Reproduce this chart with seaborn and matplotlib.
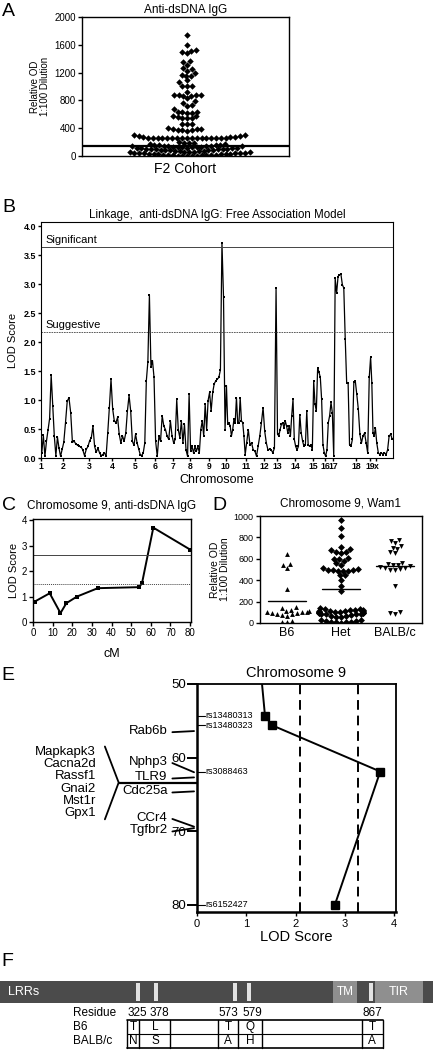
import numpy as np
import pandas as pd
import matplotlib
matplotlib.use("Agg")
import matplotlib.pyplot as plt
import seaborn as sns
from matplotlib.patches import Rectangle

# ══════════════════════════════════════════
# DATA
# ══════════════════════════════════════════

# A: anti-dsDNA IgG, F2 cohort (relative OD)
a_high = [1735, 1600,
          1520, 1515, 1490, 1480,
          1360, 1350, 1310,
          1270, 1250, 1230,
          1190, 1170, 1155, 1155,
          1090, 1060,
          1010, 1010, 1010,
          920,
          880, 880, 875, 875, 870, 870,
          830,
          785, 760, 735, 725,
          675,
          640, 635, 630, 625, 620,
          580, 570, 560, 550, 545, 540,
          465, 460, 455,
          400, 395, 390, 385, 380, 375, 370, 365,
          300, 295, 290, 285, 280, 278, 275]
a_mid = [255, 255, 255, 255, 255, 255, 255, 255, 255, 255, 255, 255, 255, 255, 255,
         255, 255,
         200, 190, 185, 180, 175, 170, 165, 160, 160, 155]
a_low = [143, 121, 96, 64, 31, 12, 138, 110, 87, 55, 20, 5, 147, 129, 102, 77, 44, 26,
         9, 134, 115, 92, 68, 39, 15, 2, 141, 118, 84, 59, 33, 18, 7, 126, 105, 73, 50,
         24, 11, 145, 131, 99, 80, 62, 41, 28, 4, 136, 113, 89, 71, 47, 22, 14, 0, 149,
         124, 107, 94, 57, 36]
a_cut = 150

# B: genome-wide LOD scan
chrom_names = ['1', '2', '3', '4', '5', '6', '7', '8', '9', '10', '11', '12', '13',
               '14', '15', '16', '17', '18', '19', 'x']
chrom_cm = [103, 122, 108, 108, 94, 85, 80, 89, 80, 94, 85, 61, 85, 85, 56, 38, 108,
            66, 28, 80]
lod_by_chrom = [
    [0.09, 0.39, 0.03, 0.29, 0.49, 0.68, 1.43, 0.9, 0.38, 0.04, 0.36, 0.17, 0.03, 0.15],
    [0.27, 0.61, 0.98, 1.04, 0.78, 0.27, 0.29, 0.24, 0.22, 0.2, 0.19, 0.14, 0.04, 0.15, 0.2],
    [0.3, 0.35, 0.55, 0.2, 0.1, 0.17, 0.09, 0.04, 0.06, 0.09, 0.03, 0.43, 0.87, 1.36],
    [0.85, 0.64, 0.61, 0.7, 0.41, 0.26, 0.38, 0.29, 0.43, 0.81, 1.08, 0.81, 0.29, 0.22],
    [0.41, 0.26, 0.16, 0.06, 0.04, 0.09, 0.26, 1.33, 1.66, 2.81, 1.57, 1.68, 1.39],
    [0.29, 0.03, 0.38, 0.29, 0.73, 0.55, 0.49, 0.38, 0.32, 0.64, 0.38],
    [0.26, 0.32, 1.01, 0.49, 0.35, 0.64, 0.26, 0.58, 0.14, 0.03, 1.1],
    [0.12, 0.2, 0.09, 0.2, 0.12, 0.2, 0.09, 0.49, 0.64, 0.38, 0.93, 0.49, 0.99],
    [1.13, 0.81, 1.13, 1.28, 1.33, 1.36, 1.39, 1.52, 3.71, 2.78, 0.49],
    [1.25, 0.58, 0.61, 0.55, 0.38, 0.49, 0.67, 0.61, 1.04, 0.61, 0.61, 1.04, 0.64, 0.61, 0.38, 0.06],
    [0.26, 0.49, 0.23, 0.26, 0.14, 0.12, 0.03, 0.2, 0.38, 0.61, 0.87],
    [0.46, 0.26, 0.14, 0.15, 0.14, 0.09, 0.17, 2.93],
    [0.41, 0.38, 0.49, 0.58, 0.61, 0.52, 0.64, 0.55, 0.43, 0.55, 0.38, 0.73, 1.01, 0.32],
    [0.2, 0.14, 0.2, 0.75, 0.43, 0.29, 0.2, 0.23, 0.81, 0.23, 0.2, 0.23, 0.14],
    [1.33, 0.93, 0.81, 1.56, 1.48, 1.39, 1.01, 0.23, 0.09],
    [0.03, 0.14, 0.61, 0.73, 0.96, 0.78],
    [0.03, 3.1, 2.84, 3.13, 3.16, 3.17, 2.99, 2.93, 2.06, 1.3, 1.3, 0.23, 0.2, 0.32, 1.31, 1.33],
    [1.1, 0.84, 0.41, 0.26, 0.38, 0.43, 0.26, 0.09, 1.39],
    [1.74, 1.3, 0.43, 0.38, 0.52],
    [0.26, 0.09, 0.06, 0.09, 0.06, 0.09, 0.06, 0.14, 0.38, 0.41, 0.32],
]
b_sig = 3.64
b_sug = 2.17

# C: chromosome 9 LOD
c_cm = [0.8, 8.5, 14, 17, 22.4, 33, 54.2, 55.6, 61.3, 80]
c_lod = [0.8, 1.13, 0.35, 0.74, 1.0, 1.33, 1.37, 1.55, 3.71, 2.85]
c_sig = 2.65
c_sug = 1.5

# D: anti-dsDNA by Wam1 genotype
d_groups = ['B6', 'Het', 'BALB/c']
d_b6 = [645, 550, 540, 515, 320, 150, 140, 125, 115, 110, 105, 100, 100, 95, 90, 85,
        80, 75, 70, 20, 10, 5]
d_het = [965, 885, 815, 710, 690, 680, 665, 660, 655, 610, 600, 595, 580, 560, 545,
         510, 505, 500, 500, 495, 490, 490, 485, 450, 445, 400, 350, 300,
         140, 135, 130, 125, 120, 120, 115, 115, 110, 110, 105, 105, 100, 100, 100,
         95, 95, 90, 90, 85, 85, 80, 80, 75, 70, 65, 60, 55, 30, 25, 20, 15, 10, 10, 5, 5, 0]
d_balb = [775, 770, 745, 720, 705, 690, 665, 650, 560, 555, 545, 540, 530, 520, 515,
          510, 505, 500, 500, 350, 100, 90, 85]
d_mean = [205, 320, 530]

# E: chromosome 9 fine map
snp_names = ['rs13480313', 'rs13480323', 'rs3088463', 'rs6152427']
snp_cm = [54.3, 55.6, 61.9, 80.0]
snp_lod = [1.38, 1.52, 3.72, 2.8]
e_entry = (50.0, 1.32)
e_sug = 2.09
e_sig = 3.27
genes = ['Rab6b', 'Nphp3', 'TLR9', 'Cdc25a', 'CCr4', 'Tgfbr2']
gene_cm = [56.4, 62.0, 62.7, 64.6, 69.4, 69.6]
cluster_genes = ['Mapkapk3', 'Cacna2d', 'Rassf1', 'Gnai2', 'Mst1r', 'Gpx1']
cluster_cm = 63.4

# F: TLR9 polymorphisms
f_residues = [325, 378, 573, 579, 867]
f_b6 = ['T', 'L', 'T', 'Q', 'T']
f_balb = ['N', 'S', 'A', 'H', 'A']

# ══════════════════════════════════════════
# SETUP
# ══════════════════════════════════════════

sns.set_theme(style="ticks")
plt.rcParams['font.family'] = ['Liberation Sans', 'DejaVu Sans']
plt.rcParams.update({
    'axes.linewidth': 1.0, 'axes.edgecolor': 'black',
    'xtick.major.width': 1.0, 'ytick.major.width': 1.0,
    'xtick.major.size': 3, 'ytick.major.size': 3,
    'xtick.major.pad': 1.5, 'ytick.major.pad': 1.5,
    'xtick.color': 'black', 'ytick.color': 'black',
    'text.color': 'black', 'axes.labelcolor': 'black',
})

W, H = 433, 1050
fig = plt.figure(figsize=(W / 100, H / 100), dpi=100)


def px_axes(l, t, r, b):
    return fig.add_axes([l / W, 1 - b / H, (r - l) / W, (b - t) / H])


def panel_label(x, y, s):
    fig.text(x / W, 1 - y / H, s, fontsize=14, ha='center', va='center')


# ══════════════════════════════════════════
# PANEL A
# ══════════════════════════════════════════

ax = px_axes(82, 17, 289, 156)
a_vals = a_high + a_mid + a_low
sns.swarmplot(y=a_vals, ax=ax, marker='D', size=3.3, color='black', linewidth=0)
ax.axhline(a_cut, color='black', lw=1.6)
ax.set_xlim(-0.64, 0.62)
ax.set_ylim(0, 2000)
ax.set_yticks(range(0, 2001, 400))
ax.tick_params(axis='y', labelsize=7)
ax.set_xticks([])
ax.set_xlabel('F2 Cohort', fontsize=10, labelpad=4)
ax.set_ylabel('Relative OD\n1:100 Dilution', fontsize=7, labelpad=3, linespacing=1.0)
ax.set_title('Anti-dsDNA IgG', fontsize=8.5, pad=3)
panel_label(8, 12, 'A')

# ══════════════════════════════════════════
# PANEL B
# ══════════════════════════════════════════

ax = px_axes(41, 222, 393, 458)
xs, ys = [], []
start = 0
starts = []
for L, vals in zip(chrom_cm, lod_by_chrom):
    starts.append(start)
    step = L / len(vals)
    xs += [start + (i + 0.5) * step for i in range(len(vals))]
    ys += vals
    start += L
sns.lineplot(x=xs, y=ys, ax=ax, sort=False, estimator=None, color='black',
             lw=0.9, marker='s', markersize=1.8, markeredgewidth=0)
ax.axhline(b_sig, color='#444444', lw=0.7)
ax.axhline(b_sug, color='#444444', lw=0.6, ls=(0, (2, 1)))
ax.text(start * 0.012, b_sig + 0.04, 'Significant', fontsize=8, va='bottom')
ax.text(start * 0.012, b_sug + 0.04, 'Suggestive', fontsize=8, va='bottom')
ax.set_xlim(0, start)
ax.set_ylim(0, 4.07)
ax.set_xticks(starts)
ax.set_xticklabels(chrom_names, fontsize=6.2, fontweight='bold')
ax.set_yticks(np.arange(0, 4.01, 0.5))
ax.set_yticklabels([f'{v:.1f}' for v in np.arange(0, 4.01, 0.5)],
                   fontsize=6.5, fontweight='bold')
ax.tick_params(axis='x', length=2, pad=1)
ax.tick_params(axis='y', length=2)
for s in ax.spines.values():
    s.set_linewidth(0.8)
ax.set_xlabel('Chromosome', fontsize=9, labelpad=2)
ax.set_ylabel('LOD Score', fontsize=8, labelpad=4)
ax.set_title('Linkage,  anti-dsDNA IgG: Free Association Model', fontsize=8.3, pad=3)
panel_label(9, 207, 'B')

# ══════════════════════════════════════════
# PANEL C
# ══════════════════════════════════════════

ax = px_axes(33, 519, 191, 622)
sns.lineplot(x=c_cm, y=c_lod, ax=ax, sort=False, estimator=None, color='black',
             lw=1.4, marker='s', markersize=2.8, markeredgewidth=0)
ax.axhline(c_sig, color='#444444', lw=0.7)
ax.axhline(c_sug, color='#444444', lw=0.7, ls=(0, (1, 1)))
ax.set_xlim(0, 80.5)
ax.set_ylim(0, 4.05)
ax.set_xticks(range(0, 81, 10))
ax.set_yticks(range(0, 5))
ax.tick_params(labelsize=7)
ax.set_xlabel('cM', fontsize=9, labelpad=7)
ax.set_ylabel('LOD Score', fontsize=8, labelpad=2)
ax.set_title('Chromosome 9, anti-dsDNA IgG', fontsize=8.5, pad=7)
panel_label(9, 505, 'C')

# ══════════════════════════════════════════
# PANEL D
# ══════════════════════════════════════════

ax = px_axes(260, 516, 422, 623)
for name, vals, mk in zip(d_groups, [d_b6, d_het, d_balb], ['^', 'D', 'v']):
    sns.swarmplot(x=[name] * len(vals), y=vals, order=d_groups, ax=ax,
                  marker=mk, size=3.5, color='black', linewidth=0)
for i, m in enumerate(d_mean):
    ax.plot([i - 0.35, i + 0.35], [m, m], color='black', lw=1.0)
ax.set_xlim(-0.5, 2.5)
ax.set_ylim(0, 1000)
ax.set_yticks(range(0, 1001, 200))
ax.tick_params(axis='y', labelsize=6.5)
ax.tick_params(axis='x', labelsize=9, length=0, pad=3)
ax.set_ylabel('Relative OD\n1:100 Dilution', fontsize=7.5, labelpad=3, linespacing=1.0)
ax.set_title('Chromosome 9, Wam1', fontsize=8.5, pad=7)
panel_label(219, 505, 'D')

# ══════════════════════════════════════════
# PANEL E
# ══════════════════════════════════════════

ax = px_axes(197, 684, 396, 912)
e_x = [e_entry[1]] + snp_lod
e_y = [e_entry[0]] + snp_cm
sns.lineplot(x=e_x, y=e_y, ax=ax, sort=False, estimator=None, color='black', lw=1.4)
ax.plot(snp_lod, snp_cm, ls='none', marker='s', markersize=6, color='black')
ax.axvline(e_sug, color='black', lw=1.4, ls=(0, (5, 3)))
ax.axvline(e_sig, color='black', lw=1.4, ls=(0, (5, 3)))
ax.set_xlim(0, 4.04)
ax.set_ylim(81, 50)
ax.set_yticks([50, 60, 70, 80])
ax.set_xticks(range(0, 5))
ax.tick_params(axis='y', labelsize=9.5, length=7, width=1.4, pad=1)
ax.tick_params(axis='x', labelsize=8, length=3, pad=2)
ax.spines['left'].set_linewidth(1.8)
ax.spines['bottom'].set_linewidth(1.8)
ax.spines['top'].set_linewidth(1.3)
ax.spines['right'].set_linewidth(1.3)
ax.set_xlabel('LOD Score', fontsize=10.5, labelpad=1)
ax.set_title('Chromosome 9', fontsize=10.5, pad=5)

# snp tick labels inside the axis
for name, cm in zip(snp_names, snp_cm):
    ax.plot([0, 0.16], [cm, cm], color='black', lw=0.8, clip_on=False)
    ax.text(0.18, cm, name, fontsize=6.5, va='center', ha='left',
            family=['Liberation Sans Narrow', 'Liberation Sans'])

# genes to the left of the axis
gene_text_cm = [56.4, 60.6, 62.7, 64.6, 68.2, 69.9]
for name, cm, tcm in zip(genes, gene_cm, gene_text_cm):
    ax.plot([-0.5, -0.06], [tcm + 0.15, cm], color='black', lw=1.3, clip_on=False)
    ax.text(-0.6, tcm, name, fontsize=9.5, ha='right', va='center')

ax.plot([-1.59, 0], [cluster_cm, cluster_cm], color='black', lw=1.6, clip_on=False)
ax.plot([-1.87, -1.59, -1.87], [cluster_cm - 4.9, cluster_cm, cluster_cm + 5.0],
        color='black', lw=1.3, clip_on=False)
for i, name in enumerate(cluster_genes):
    ax.text(-2.05, cluster_cm + (i - 2.5) * 1.65, name, fontsize=9.5, ha='right',
            va='center')
panel_label(8, 676, 'E')

# ══════════════════════════════════════════
# PANEL F
# ══════════════════════════════════════════

ax = px_axes(0, 975, 433, 1050)
ax.set_xlim(0, W)
ax.set_ylim(1050, 975)
ax.axis('off')

dark, mid = '#4b4b4b', '#8f8f8f'
ax.add_patch(Rectangle((0, 981), W, 22, color=dark, lw=0))
ax.add_patch(Rectangle((333, 981), 24, 22, color=mid, lw=0))
ax.add_patch(Rectangle((375, 981), 48, 22, color=mid, lw=0))
stripe_x = [138, 156, 235, 249, 371]
for x in stripe_x:
    ax.add_patch(Rectangle((x - 2, 983), 4, 18, color='#e2e2e2', lw=0))
ax.text(8, 992, 'LRRs', color='white', fontsize=9, va='center')
ax.text(345, 992, 'TM', color='white', fontsize=8.5, va='center', ha='center')
ax.text(399, 992, 'TIR', color='white', fontsize=9, va='center', ha='center')

col_x = [137, 159, 228, 252, 372]
ax.text(73, 1013, 'Residue', fontsize=8.5, va='center')
ax.text(73, 1027, 'B6', fontsize=8.5, va='center')
ax.text(73, 1041, 'BALB/c', fontsize=8.5, va='center')
for x, r, b6, bl in zip(col_x, f_residues, f_b6, f_balb):
    ax.text(x, 1013, str(r), fontsize=8.5, va='center', ha='center')
for x, b6, bl in zip([133, 155, 228, 250, 372], f_b6, f_balb):
    ax.text(x, 1027, b6, fontsize=8.5, va='center', ha='center')
    ax.text(x, 1041, bl, fontsize=8.5, va='center', ha='center')

ax.plot([127, 383], [1020, 1020], color='black', lw=1.2)
ax.plot([127, 383], [1034, 1034], color='black', lw=0.8)
ax.plot([127, 383], [1048, 1048], color='black', lw=1.2)
for x in [127, 139, 170, 218, 238, 262, 362, 383]:
    ax.plot([x, x], [1020, 1048], color='black', lw=1.0)
panel_label(7, 962, 'F')

plt.savefig("out.png", dpi=100)
plt.close()
print("Saved: out.png")
